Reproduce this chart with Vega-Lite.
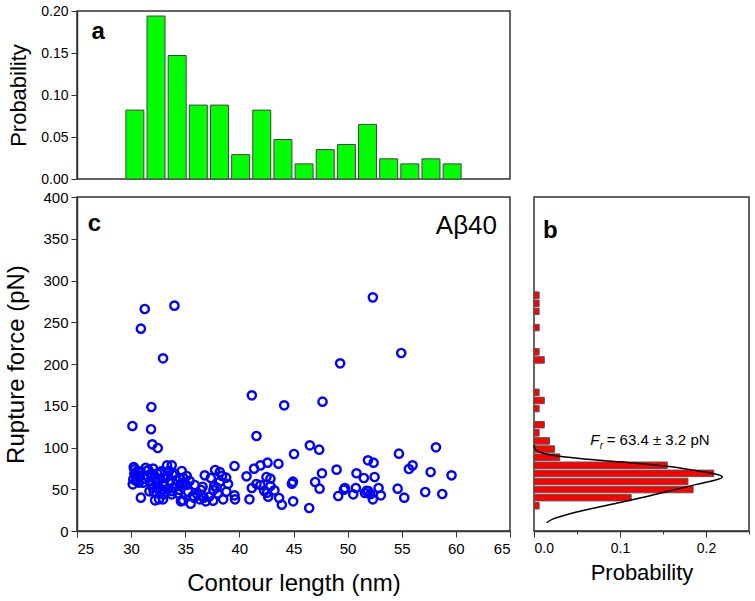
{
  "$schema": "https://vega.github.io/schema/vega-lite/v6.json",
  "padding": {"left": 4, "top": 3, "right": 0, "bottom": 0},
  "bounds": "flush",
  "spacing": 18,
  "config": {
    "font": "Liberation Sans",
    "view": {"stroke": "#333", "strokeWidth": 1.5},
    "axis": {"grid": false, "domainColor": "#333", "domainWidth": 1.5, "tickColor": "#333", "tickWidth": 1, "labelFont": "Liberation Sans", "labelColor": "#000", "titleFont": "Liberation Sans", "titleFontWeight": "normal", "titleColor": "#000"}
  },
  "datasets": {
    "lengthHist": [
      {"length": 30, "probability": 0.082}, {"length": 32, "probability": 0.194}, {"length": 34, "probability": 0.147},
      {"length": 36, "probability": 0.088}, {"length": 38, "probability": 0.088}, {"length": 40, "probability": 0.029},
      {"length": 42, "probability": 0.082}, {"length": 44, "probability": 0.047}, {"length": 46, "probability": 0.018},
      {"length": 48, "probability": 0.035}, {"length": 50, "probability": 0.041}, {"length": 52, "probability": 0.065},
      {"length": 54, "probability": 0.024}, {"length": 56, "probability": 0.018}, {"length": 58, "probability": 0.024},
      {"length": 60, "probability": 0.018}
    ],
    "forceHist": [
      {"force": 285, "probability": 0.006}, {"force": 275, "probability": 0.006}, {"force": 265, "probability": 0.006},
      {"force": 245, "probability": 0.006}, {"force": 215, "probability": 0.006}, {"force": 205, "probability": 0.012},
      {"force": 165, "probability": 0.006}, {"force": 155, "probability": 0.012}, {"force": 145, "probability": 0.006},
      {"force": 125, "probability": 0.012}, {"force": 115, "probability": 0.006}, {"force": 105, "probability": 0.018},
      {"force": 95, "probability": 0.024}, {"force": 85, "probability": 0.03}, {"force": 75, "probability": 0.155},
      {"force": 65, "probability": 0.209}, {"force": 55, "probability": 0.179}, {"force": 45, "probability": 0.185},
      {"force": 35, "probability": 0.113}, {"force": 25, "probability": 0.006}
    ],
    "fit": [
      {"probability": 0.0, "force": 99.8}, {"probability": 0.0023, "force": 93.8}, {"probability": 0.0108, "force": 89.8},
      {"probability": 0.034, "force": 85.5}, {"probability": 0.072, "force": 81.5}, {"probability": 0.111, "force": 78.2},
      {"probability": 0.157, "force": 73.5}, {"probability": 0.188, "force": 68.5}, {"probability": 0.211, "force": 64.2},
      {"probability": 0.219, "force": 60.7}, {"probability": 0.211, "force": 56.7}, {"probability": 0.188, "force": 51.1},
      {"probability": 0.157, "force": 43.1}, {"probability": 0.126, "force": 35.1}, {"probability": 0.0916, "force": 27.2},
      {"probability": 0.0608, "force": 20}, {"probability": 0.0377, "force": 14}, {"probability": 0.0223, "force": 8.8},
      {"probability": 0.0146, "force": 4}
    ],
    "events": [
      {"length": 30.12, "force": 125.7}, {"length": 30.9, "force": 242.3}, {"length": 30.9, "force": 39.9}, {"length": 30.49, "force": 59.9},
      {"length": 30.39, "force": 67.1}, {"length": 30.33, "force": 73.9}, {"length": 30.3, "force": 69.1}, {"length": 30.15, "force": 55.9},
      {"length": 30.8, "force": 65.9}, {"length": 30.24, "force": 76.5}, {"length": 30.2, "force": 62}, {"length": 30.6, "force": 72},
      {"length": 30.45, "force": 64}, {"length": 30.7, "force": 58},
      {"length": 31.26, "force": 265.9}, {"length": 31.87, "force": 148.5}, {"length": 31.84, "force": 121.8}, {"length": 31.96, "force": 103.8},
      {"length": 32.46, "force": 99.4}, {"length": 32.95, "force": 206.8}, {"length": 31.1, "force": 57.9}, {"length": 31.26, "force": 62.7},
      {"length": 31.35, "force": 75.8}, {"length": 31.41, "force": 71.9}, {"length": 31.69, "force": 47.5}, {"length": 31.72, "force": 59.9},
      {"length": 31.93, "force": 55.9}, {"length": 32.03, "force": 74.7}, {"length": 32.09, "force": 47.1}, {"length": 32.21, "force": 36.7},
      {"length": 32.4, "force": 69.1}, {"length": 32.46, "force": 51.9}, {"length": 32.58, "force": 37.9}, {"length": 32.77, "force": 71.5},
      {"length": 32.92, "force": 56.7}, {"length": 32.95, "force": 37.9}, {"length": 31.87, "force": 67.9}, {"length": 32.18, "force": 63.8},
      {"length": 32.65, "force": 69.8}, {"length": 32.96, "force": 63.8}, {"length": 32.98, "force": 43.9}, {"length": 31.5, "force": 66},
      {"length": 32.0, "force": 52}, {"length": 32.3, "force": 58}, {"length": 31.6, "force": 73}, {"length": 32.7, "force": 46},
      {"length": 32.85, "force": 50},
      {"length": 34.0, "force": 269.9}, {"length": 33.2, "force": 63.5}, {"length": 33.32, "force": 78.6}, {"length": 33.38, "force": 65.9},
      {"length": 33.41, "force": 49.9}, {"length": 33.63, "force": 59.1}, {"length": 33.75, "force": 78.6}, {"length": 33.75, "force": 43.9},
      {"length": 34.18, "force": 61.1}, {"length": 34.5, "force": 53.9}, {"length": 34.5, "force": 49.1}, {"length": 34.5, "force": 63.5},
      {"length": 34.6, "force": 35.5}, {"length": 34.68, "force": 71.9}, {"length": 33.82, "force": 67.9}, {"length": 33.73, "force": 47.9},
      {"length": 34.8, "force": 63.8}, {"length": 34.65, "force": 56.7}, {"length": 34.8, "force": 36.5}, {"length": 33.1, "force": 54},
      {"length": 33.5, "force": 72}, {"length": 34.0, "force": 69}, {"length": 34.3, "force": 45}, {"length": 33.9, "force": 52},
      {"length": 34.9, "force": 58},
      {"length": 35.1, "force": 55.1}, {"length": 35.14, "force": 65.9}, {"length": 35.26, "force": 47.1}, {"length": 35.5, "force": 32.7},
      {"length": 35.82, "force": 39.9}, {"length": 35.88, "force": 55.1}, {"length": 36.34, "force": 37.9}, {"length": 36.46, "force": 49.1},
      {"length": 36.71, "force": 39.9}, {"length": 36.8, "force": 66.7}, {"length": 36.9, "force": 35.5}, {"length": 35.7, "force": 41.9},
      {"length": 35.4, "force": 60}, {"length": 36.1, "force": 44}, {"length": 36.6, "force": 53},
      {"length": 37.36, "force": 63.5}, {"length": 37.57, "force": 36.3}, {"length": 37.6, "force": 49.1}, {"length": 37.67, "force": 53.9},
      {"length": 37.76, "force": 73.1}, {"length": 38.19, "force": 59.1}, {"length": 38.19, "force": 70.7}, {"length": 38.5, "force": 37.9},
      {"length": 38.78, "force": 63.9}, {"length": 38.8, "force": 47.1}, {"length": 38.95, "force": 56.3}, {"length": 37.2, "force": 41},
      {"length": 38.0, "force": 45}, {"length": 38.4, "force": 66}, {"length": 37.9, "force": 52},
      {"length": 39.55, "force": 77.8}, {"length": 39.6, "force": 37.9}, {"length": 39.55, "force": 42.7}, {"length": 40.66, "force": 65.5},
      {"length": 40.93, "force": 37.9},
      {"length": 41.15, "force": 162.5}, {"length": 41.58, "force": 113.8}, {"length": 41.15, "force": 51.5}, {"length": 41.36, "force": 74.7},
      {"length": 41.58, "force": 56.3}, {"length": 41.95, "force": 78.6}, {"length": 41.95, "force": 55.1}, {"length": 42.5, "force": 64.7},
      {"length": 42.56, "force": 45.9}, {"length": 42.6, "force": 81.8}, {"length": 42.66, "force": 41.1}, {"length": 42.87, "force": 62.7},
      {"length": 42.87, "force": 53.9}, {"length": 42.3, "force": 48},
      {"length": 43.24, "force": 48.7}, {"length": 43.61, "force": 80.6}, {"length": 43.67, "force": 39.5}, {"length": 43.92, "force": 31.5},
      {"length": 44.14, "force": 150.5}, {"length": 44.85, "force": 56.7}, {"length": 44.97, "force": 35.5}, {"length": 44.95, "force": 59.1},
      {"length": 45.05, "force": 92.2}, {"length": 46.45, "force": 27.5}, {"length": 46.51, "force": 102.6},
      {"length": 47.0, "force": 58.7}, {"length": 47.37, "force": 97.4}, {"length": 47.41, "force": 50.7}, {"length": 47.63, "force": 69.1},
      {"length": 47.68, "force": 154.9}, {"length": 48.98, "force": 73.5},
      {"length": 49.13, "force": 41.9}, {"length": 49.31, "force": 200.8}, {"length": 49.65, "force": 49.5}, {"length": 49.75, "force": 51.5},
      {"length": 50.52, "force": 43.9}, {"length": 50.76, "force": 51.5}, {"length": 50.82, "force": 69.1},
      {"length": 51.5, "force": 63.5}, {"length": 51.6, "force": 45.5}, {"length": 51.88, "force": 84.6}, {"length": 51.9, "force": 47.9},
      {"length": 52.33, "force": 279.8}, {"length": 52.33, "force": 37.9}, {"length": 52.4, "force": 81.8}, {"length": 52.49, "force": 64.7},
      {"length": 52.86, "force": 51.5}, {"length": 52.1, "force": 44}, {"length": 51.75, "force": 48},
      {"length": 53.07, "force": 42.7}, {"length": 54.62, "force": 50.7}, {"length": 54.74, "force": 92.6}, {"length": 54.95, "force": 213.2},
      {"length": 55.23, "force": 39.9}, {"length": 55.66, "force": 74.3}, {"length": 56.0, "force": 78.6},
      {"length": 57.17, "force": 46.7}, {"length": 57.67, "force": 70.7}, {"length": 58.16, "force": 100.2}, {"length": 58.74, "force": 44.3},
      {"length": 59.6, "force": 66.7}
    ]
  },
  "vconcat": [
    {
      "width": 433,
      "height": 168,
      "layer": [
        {
          "data": {"name": "lengthHist"},
          "mark": {"type": "bar", "size": 18, "fill": "#00ff00", "stroke": "#444", "strokeWidth": 1},
          "encoding": {
            "x": {"field": "length", "type": "quantitative", "scale": {"domain": [25, 65], "nice": false}, "axis": null},
            "y": {
              "field": "probability", "type": "quantitative", "scale": {"domain": [0, 0.2], "nice": false},
              "axis": {
                "title": "Probability", "titleFontSize": 22, "titlePadding": 10, "labelFontSize": 14, "labelPadding": 3,
                "values": [0, 0.025, 0.05, 0.075, 0.1, 0.125, 0.15, 0.175, 0.2], "format": ".2f",
                "labelExpr": "abs(datum.value*20 - round(datum.value*20)) < 1e-6 ? datum.label : ''",
                "tickSize": {"condition": {"test": "abs(datum.value*20 - round(datum.value*20)) < 1e-6", "value": 6}, "value": 3}
              }
            }
          }
        },
        {
          "data": {"values": [{}]},
          "mark": {"type": "text", "text": "a", "fontSize": 24, "fontWeight": "bold", "align": "left", "baseline": "alphabetic", "color": "#000"},
          "encoding": {"x": {"datum": 25.9}, "y": {"datum": 0.1667}}
        }
      ]
    },
    {
      "spacing": 24,
      "bounds": "flush",
      "hconcat": [
        {
          "width": 433,
          "height": 334,
          "layer": [
            {
              "data": {"name": "events"},
              "mark": {"type": "point", "shape": "circle", "filled": false, "color": "#0000ff", "strokeWidth": 2.4, "size": 68, "opacity": 1},
              "encoding": {
                "x": {
                  "field": "length", "type": "quantitative", "scale": {"domain": [25, 65], "nice": false},
                  "axis": {
                    "title": "Contour length (nm)", "titleFontSize": 24, "titlePadding": 15, "labelFontSize": 15, "labelPadding": 4,
                    "values": [25, 27.5, 30, 32.5, 35, 37.5, 40, 42.5, 45, 47.5, 50, 52.5, 55, 57.5, 60, 62.5, 65],
                    "labelExpr": "datum.value % 5 === 0 ? datum.label : ''",
                    "tickSize": {"condition": {"test": "datum.value % 5 === 0", "value": 6}, "value": 3}
                  }
                },
                "y": {
                  "field": "force", "type": "quantitative", "scale": {"domain": [0, 400], "nice": false},
                  "axis": {
                    "title": "Rupture force (pN)", "titleFontSize": 24, "titlePadding": 14, "labelFontSize": 15, "labelPadding": 3,
                    "values": [0, 25, 50, 75, 100, 125, 150, 175, 200, 225, 250, 275, 300, 325, 350, 375, 400],
                    "labelExpr": "datum.value % 50 === 0 ? datum.label : ''",
                    "tickSize": {"condition": {"test": "datum.value % 50 === 0", "value": 6}, "value": 3}
                  }
                }
              }
            },
            {
              "data": {"values": [{}]},
              "mark": {"type": "text", "text": "c", "fontSize": 24, "fontWeight": "bold", "align": "left", "baseline": "alphabetic", "color": "#000"},
              "encoding": {"x": {"datum": 26.0}, "y": {"datum": 359}}
            },
            {
              "data": {"values": [{}]},
              "mark": {"type": "text", "text": "Aβ40", "fontSize": 26, "align": "right", "baseline": "alphabetic", "color": "#000"},
              "encoding": {"x": {"datum": 63.8}, "y": {"datum": 356}}
            }
          ]
        },
        {
          "width": 215,
          "height": 334,
          "layer": [
            {
              "data": {"name": "forceHist"},
              "mark": {"type": "bar", "orient": "horizontal", "size": 6.5, "fill": "#ff0000", "stroke": "#555", "strokeWidth": 1},
              "encoding": {
                "y": {"field": "force", "type": "quantitative", "scale": {"domain": [0, 400], "nice": false}, "axis": null},
                "x": {
                  "field": "probability", "type": "quantitative", "scale": {"domain": [0, 0.25], "nice": false},
                  "axis": {
                    "title": "Probability", "titleFontSize": 22, "titlePadding": 7, "labelFontSize": 14, "labelPadding": 4,
                    "values": [0, 0.05, 0.1, 0.15, 0.2, 0.25], "format": ".1f",
                    "labelExpr": "abs(datum.value*10 - round(datum.value*10)) < 1e-6 ? datum.label : ''",
                    "tickSize": {"condition": {"test": "abs(datum.value*10 - round(datum.value*10)) < 1e-6", "value": 6}, "value": 3}
                  }
                }
              }
            },
            {
              "data": {"name": "fit"},
              "mark": {"type": "line", "color": "#000", "strokeWidth": 1.5, "interpolate": "cardinal"},
              "encoding": {
                "x": {"field": "probability", "type": "quantitative"},
                "y": {"field": "force", "type": "quantitative"},
                "order": {"field": "force", "sort": "descending"}
              }
            },
            {
              "data": {"values": [{}]},
              "mark": {"type": "text", "text": "b", "fontSize": 24, "fontWeight": "bold", "align": "left", "baseline": "alphabetic", "color": "#000"},
              "encoding": {"x": {"datum": 0.0104}, "y": {"datum": 355.7}}
            },
            {
              "data": {"values": [{}]},
              "mark": {"type": "text", "text": "F", "fontSize": 15, "fontStyle": "italic", "align": "left", "baseline": "alphabetic", "color": "#000"},
              "encoding": {"x": {"datum": 0.0655}, "y": {"datum": 99.8}}
            },
            {
              "data": {"values": [{}]},
              "mark": {"type": "text", "text": "r", "fontSize": 10, "fontStyle": "italic", "align": "left", "baseline": "alphabetic", "color": "#000"},
              "encoding": {"x": {"datum": 0.0765}, "y": {"datum": 95.3}}
            },
            {
              "data": {"values": [{}]},
              "mark": {"type": "text", "text": "= 63.4 ± 3.2 pN", "fontSize": 15, "align": "left", "baseline": "alphabetic", "color": "#000"},
              "encoding": {"x": {"datum": 0.0845}, "y": {"datum": 99.8}}
            }
          ]
        }
      ]
    }
  ]
}
